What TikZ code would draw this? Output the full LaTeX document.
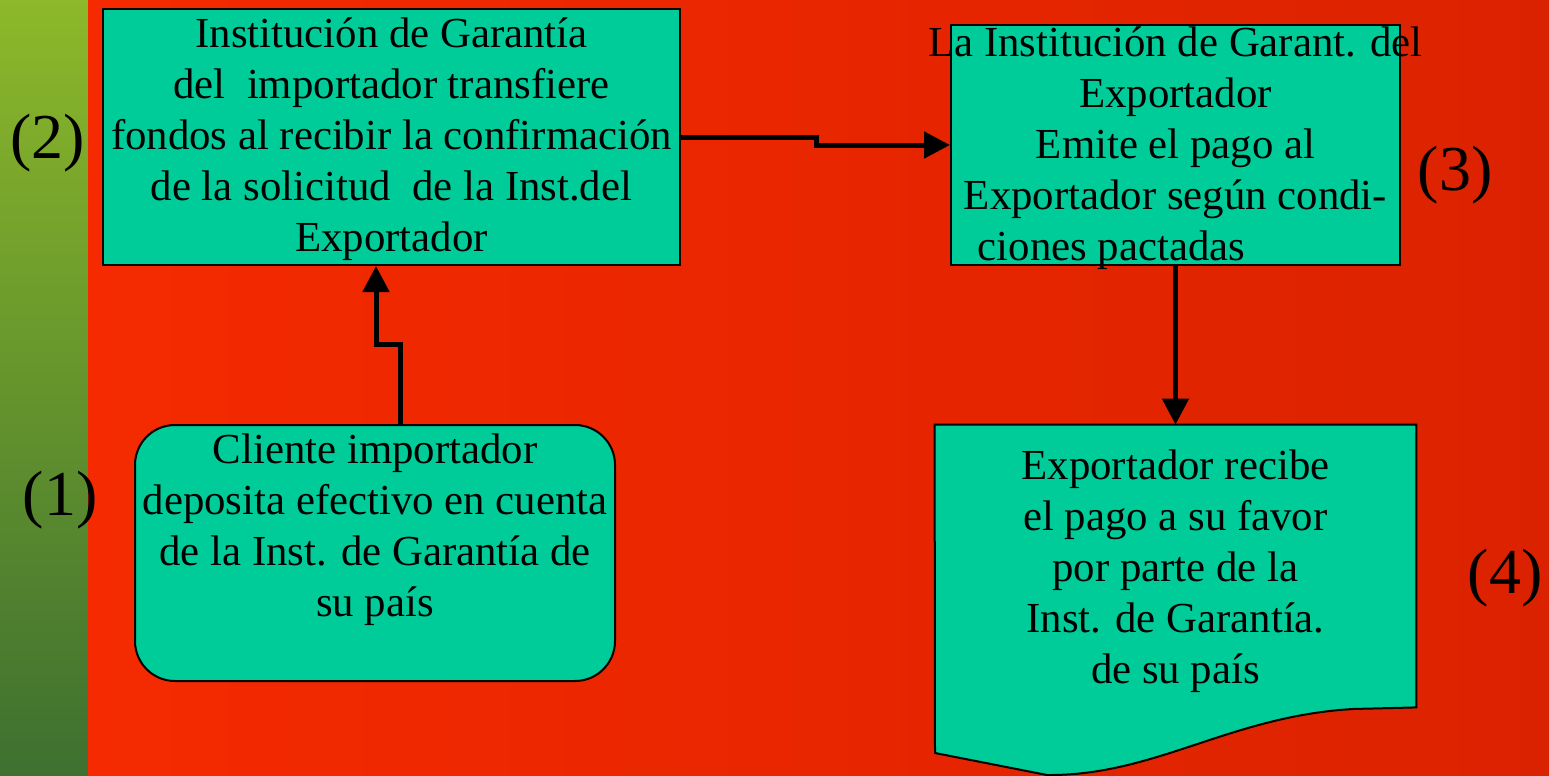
\documentclass[tikz,border=0pt]{standalone}
\usepackage{fontspec}
\setmainfont{Liberation Serif}
\usetikzlibrary{arrows.meta}

\definecolor{verdeagua}{HTML}{00CC99}
\definecolor{rojoclaro}{HTML}{F52A00}
\definecolor{rojooscuro}{HTML}{DB2200}
\definecolor{verdearriba}{HTML}{8CB82A}
\definecolor{verdeabajo}{HTML}{3E7030}

\tikzset{
  caja/.style={draw=black, line width=1pt, fill=verdeagua, inner sep=0pt},
  texto/.style={align=center, font=\fontsize{21.4}{25.5}\selectfont, inner sep=0pt},
  paso/.style={font=\fontsize{32}{38}\selectfont, inner sep=0pt},
  flecha/.style={line width=2.5pt, -{Triangle[length=13pt,width=13pt]}},
}

\begin{document}
\begin{tikzpicture}[x=0.5pt,y=-0.5pt]
    % fondo
    \useasboundingbox (0,0) rectangle (1549,776);
    \fill[top color=verdearriba, bottom color=verdeabajo] (0,0) rectangle (88,776);
    \fill[left color=rojoclaro, right color=rojooscuro] (88,0) rectangle (1549,776);

    % cajas
    \node[caja, minimum width=288.5pt, minimum height=128pt] (garimp) at (391.5,137) {};
    \node[caja, minimum width=224.5pt, minimum height=120pt] (garexp) at (1175.5,145) {};
    \node[caja, rounded corners=20pt, minimum width=240pt, minimum height=128pt] (cliente) at (375,553) {};
    \node[inner sep=0pt, minimum width=240.5pt, minimum height=141pt] (recibe) at (1175.5,566) {};
    \filldraw[caja] (recibe.north west) -- (recibe.north east) -- (recibe.south east)
        -- (1353,709) .. controls (1230,716) and (1155,776) .. (1047,775) -- (935,753) -- cycle;

    % textos
    \node[texto] (tgarimp) at ([yshift=-1pt]garimp.center) {Institución de Garantía\\
        del\ \ importador transfiere\\ fondos al recibir la confirmación\\
        de la solicitud\ \ de la Inst.del\\ Exportador};
    \node[texto] (tgarexp) at ([yshift=-1.75pt]garexp.center) {La Institución de Garant. del\\
        Exportador\\ Emite el pago al\\ Exportador según condi-\\ ciones pactadas\hspace*{64pt}};
    \node[texto] (tcliente) at ([yshift=11.5pt]cliente.center) {Cliente importador\\
        deposita efectivo en cuenta\\ de la Inst. de Garantía de\\ su país};
    \node[texto] (trecibe) at ([yshift=-2.5pt]recibe.center) {Exportador recibe\\
        el pago a su favor\\ por parte de la\\ Inst. de Garantía.\\ de su país};

    % numeros
    \node[paso] (n2) at (48,143) {(2)};
    \node[paso] (n1) at (60,500) {(1)};
    \node[paso] (n3) at (1455,175) {(3)};
    \node[paso] (n4) at (1505,578) {(4)};

    % flechas
    \draw[flecha] ([xshift=12.5pt]cliente.north) -- ++(0,-80) -| ([xshift=-7.75pt]garimp.south);
    \draw[flecha] (garimp.east) -- ++(135,0) |- (garexp.west);
    \draw[flecha] (garexp.south) -- (recibe.north);
\end{tikzpicture}
\end{document}
